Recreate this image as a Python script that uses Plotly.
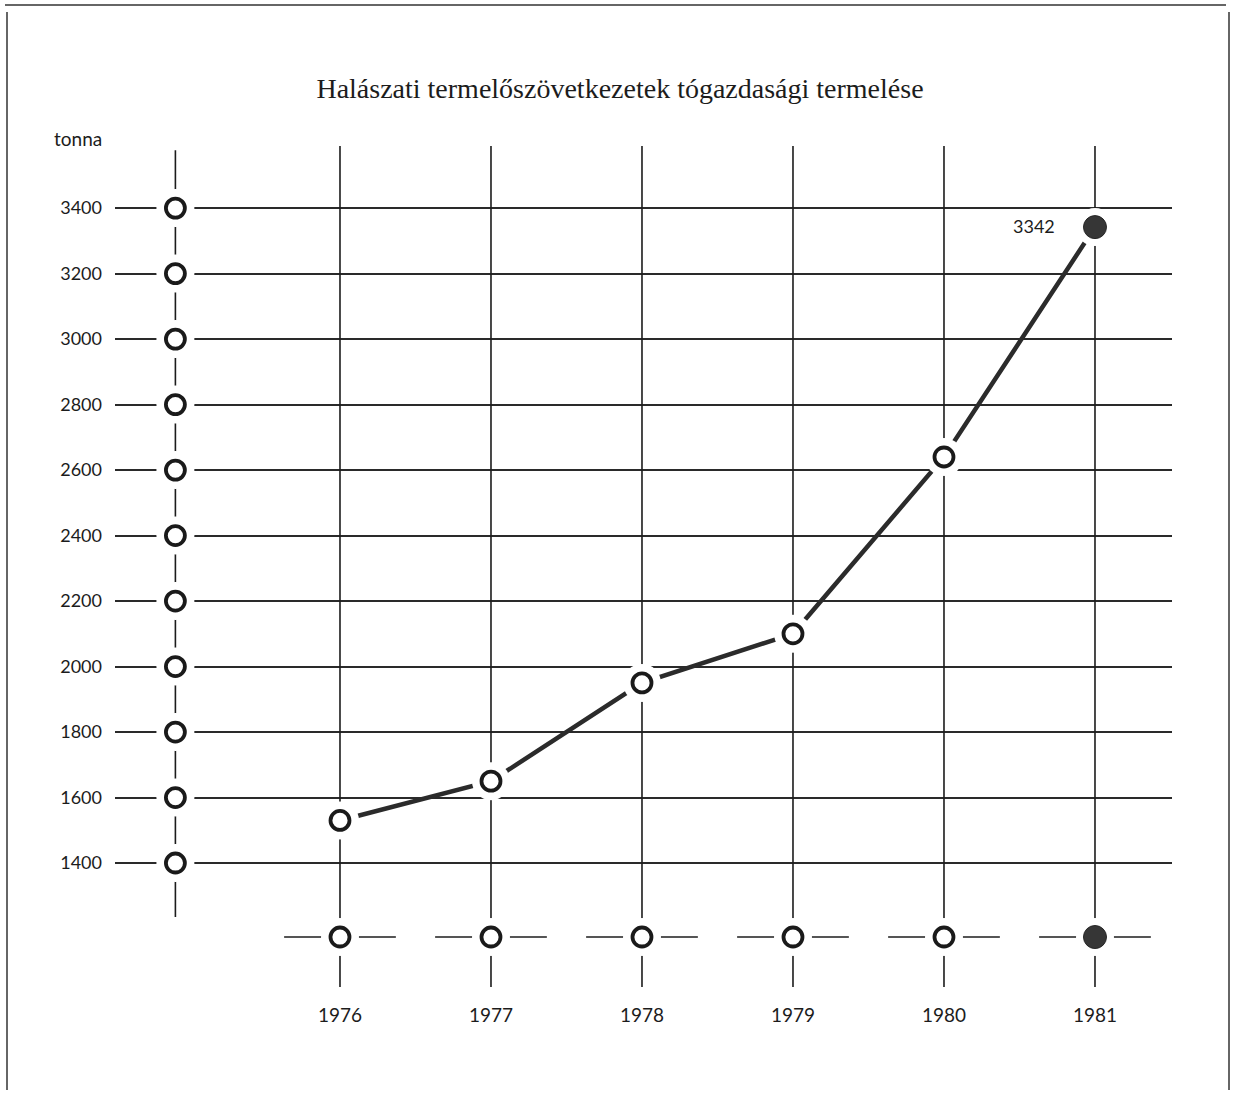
import plotly.graph_objects as go

# ---- data ----
YEARS = [1976, 1977, 1978, 1979, 1980, 1981]
PRODUCTION_T = [1530, 1650, 1950, 2100, 2640, 3342]   # tonna
Y_TICKS = [1400, 1600, 1800, 2000, 2200, 2400, 2600, 2800, 3000, 3200, 3400]
Y_TICK_LABELS = [str(v) for v in Y_TICKS]
TITLE = "Halászati termelőszövetkezetek tógazdasági termelése"
UNIT = "tonna"

# ---- layout constants ----
W, H = 1237, 1094
ML, MR, MT, MB = 115, 65, 140, 100
X_RANGE = [1974.51, 1981.51]
Y_RANGE = [1000, 3608]
AXIS_COL_X = 1974.91      # decorative vertical scale column
BOTTOM_ROW_Y = 1174       # decorative year row
INK = "#1c1c1c"
FONT = "Lato"

def px_to_paper_x(px):
    return (px - ML) / (W - ML - MR)

def px_to_paper_y(py):
    return (H - MB - py) / (H - MT - MB)

fig = go.Figure()

# vertical year lines
vx, vy = [], []
for yr in YEARS:
    vx += [yr, yr, None]
    vy += [3590, 1021, None]
fig.add_trace(go.Scatter(x=vx, y=vy, mode="lines",
                         line=dict(color=INK, width=1.6), hoverinfo="skip"))

# left decorative scale line
fig.add_trace(go.Scatter(x=[AXIS_COL_X, AXIS_COL_X], y=[3577, 1235], mode="lines",
                         line=dict(color=INK, width=1.6), hoverinfo="skip"))

# bottom row dashes
dx, dy = [], []
for yr in YEARS:
    dx += [yr - 0.37, yr + 0.37, None]
    dy += [BOTTOM_ROW_Y, BOTTOM_ROW_Y, None]
fig.add_trace(go.Scatter(x=dx, y=dy, mode="lines",
                         line=dict(color=INK, width=1.6), hoverinfo="skip"))

# data line
fig.add_trace(go.Scatter(x=YEARS, y=PRODUCTION_T, mode="lines",
                         line=dict(color="#2b2b2b", width=4.5), hoverinfo="skip"))

# white halos (gaps around circles)
halo_x = [AXIS_COL_X] * len(Y_TICKS) + YEARS + YEARS
halo_y = Y_TICKS + [BOTTOM_ROW_Y] * len(YEARS) + PRODUCTION_T
fig.add_trace(go.Scatter(x=halo_x, y=halo_y, mode="markers",
                         marker=dict(size=38, color="white", line=dict(width=0)),
                         hoverinfo="skip"))

# rings
n_open = len(YEARS) - 1
ring_x = [AXIS_COL_X] * len(Y_TICKS) + YEARS[:n_open] + YEARS[:n_open]
ring_y = Y_TICKS + [BOTTOM_ROW_Y] * n_open + PRODUCTION_T[:n_open]
fig.add_trace(go.Scatter(x=ring_x, y=ring_y, mode="markers",
                         marker=dict(size=19, color="white",
                                     line=dict(color="#1a1a1a", width=3.8)),
                         hoverinfo="skip"))

# filled last year
fig.add_trace(go.Scatter(x=[YEARS[-1], YEARS[-1]], y=[BOTTOM_ROW_Y, PRODUCTION_T[-1]],
                         mode="markers",
                         marker=dict(size=23, color="#363636",
                                     line=dict(color="#262626", width=1)),
                         hoverinfo="skip"))

fig.add_annotation(x=YEARS[-1], y=PRODUCTION_T[-1], text=str(PRODUCTION_T[-1]),
                   showarrow=False, xanchor="right", xshift=-38, yshift=1,
                   font=dict(family=FONT, size=18, color=INK))

fig.add_annotation(xref="paper", yref="paper", x=px_to_paper_x(78), y=px_to_paper_y(138),
                   text=UNIT, showarrow=False, xanchor="center", yanchor="middle",
                   font=dict(family=FONT, size=19, color=INK))

# page frame lines (scan edges)
frame = dict(type="line", xref="paper", yref="paper", line=dict(color="#666", width=2))
fig.add_shape(**frame, x0=px_to_paper_x(5), x1=px_to_paper_x(1226),
              y0=px_to_paper_y(5), y1=px_to_paper_y(5))
fig.add_shape(**frame, x0=px_to_paper_x(7), x1=px_to_paper_x(7),
              y0=px_to_paper_y(12), y1=px_to_paper_y(1090))
fig.add_shape(**frame, x0=px_to_paper_x(1229), x1=px_to_paper_x(1229),
              y0=px_to_paper_y(12), y1=px_to_paper_y(1090))

fig.update_layout(
    width=W, height=H,
    margin=dict(l=ML, r=MR, t=MT, b=MB),
    paper_bgcolor="white", plot_bgcolor="white",
    showlegend=False,
    title=dict(text=TITLE, x=620 / W, xref="container", xanchor="center",
               y=1 - 88 / H, yref="container", yanchor="middle",
               font=dict(family="Liberation Serif", size=28, color=INK)),
    xaxis=dict(range=X_RANGE, showgrid=False, zeroline=False, showline=False,
               tickmode="array", tickvals=YEARS, ticktext=[str(y) for y in YEARS],
               ticks="outside", ticklen=4, tickcolor="rgba(0,0,0,0)",
               tickfont=dict(family=FONT, size=19, color=INK), fixedrange=True),
    yaxis=dict(range=Y_RANGE, showgrid=True, gridcolor="#2a2a2a", gridwidth=1.5,
               zeroline=False, showline=False,
               tickmode="array", tickvals=Y_TICKS, ticktext=Y_TICK_LABELS,
               ticklabelstandoff=12,
               tickfont=dict(family=FONT, size=18, color=INK), fixedrange=True),
)

fig.write_html(
    "out.html",
    config={"displayModeBar": False},
    post_script="document.body.style.margin='0';document.body.style.overflow='hidden';",
)
